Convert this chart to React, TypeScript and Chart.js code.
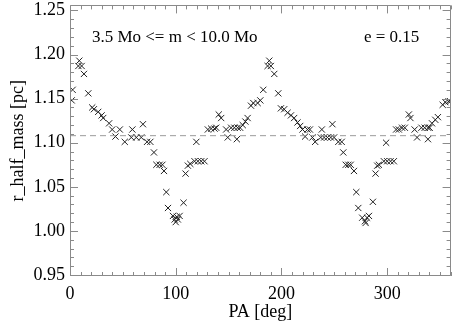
import React, { useEffect, useRef } from "react";
import { Chart, registerables } from "chart.js";

Chart.register(...registerables);

// Position angle [deg]
const paDeg: number[] = [
  1.6, 2.5, 7.9, 8.8, 11.0, 13.2, 17.3, 21.0, 22.6, 26.7, 29.9, 31.4, 37.0, 39.9, 43.0, 47.1,
  51.8, 58.0, 59.0, 62.7, 67.4, 69.0, 72.9, 76.0, 79.4, 81.7, 84.8, 87.4, 88.9, 91.1, 92.7,
  97.4, 99.0, 100.0, 101.0, 102.0, 103.7, 107.4, 109.3, 111.5, 113.8, 117.8, 119.5, 121.0,
  124.1, 127.2, 130.4, 133.5, 136.7, 138.3, 140.7, 143.0, 147.7, 149.2, 152.4, 155.5, 157.8,
  158.6, 160.9, 163.4, 165.9, 168.0, 171.2, 173.4, 177.5, 180.0,
  182.8, 186.9, 188.5, 190.0, 193.2, 197.0, 199.5, 202.6, 205.8, 209.0, 212.0, 215.2, 217.7,
  219.9, 222.4, 224.6, 226.9, 229.3, 231.9, 237.2, 238.2, 240.4, 243.5, 246.7, 248.2, 249.8,
  253.8, 257.0, 258.5, 260.8, 263.3, 265.5, 268.6, 270.8, 272.7, 276.4, 279.0, 279.6, 281.0,
  282.8, 286.5, 289.0, 290.6, 292.2, 296.9, 299.0, 300.0, 303.2, 306.3, 308.5, 311.0, 314.1,
  316.7, 320.5, 322.0, 326.0, 328.3, 332.4, 335.5, 338.6, 338.7, 340.2, 342.4, 345.5, 348.0,
  352.5, 355.0, 358.1, 359.7,
];

// Half-mass radius [pc]
const rHalfMass: number[] = [
  1.148, 1.160, 1.187, 1.193, 1.187, 1.178, 1.156, 1.140, 1.138, 1.135, 1.131, 1.128, 1.122, 1.115, 1.107, 1.115,
  1.101, 1.106, 1.115, 1.106, 1.106, 1.121, 1.101, 1.101, 1.089, 1.075, 1.075, 1.075, 1.068, 1.044, 1.026,
  1.017, 1.013, 1.010, 1.016, 1.013, 1.017, 1.032, 1.065, 1.074, 1.076, 1.079, 1.101, 1.079,
  1.079, 1.079, 1.115, 1.116, 1.116, 1.117, 1.132, 1.128, 1.115, 1.106, 1.117, 1.117, 1.104,
  1.117, 1.117, 1.120, 1.124, 1.128, 1.142, 1.145, 1.145, 1.148,
  1.160, 1.187, 1.193, 1.187, 1.178, 1.156, 1.139, 1.138, 1.134, 1.131, 1.128, 1.123, 1.119,
  1.115, 1.107, 1.115, 1.115, 1.106, 1.101, 1.106, 1.115, 1.106, 1.106, 1.106, 1.121, 1.106,
  1.101, 1.101, 1.089, 1.075, 1.075, 1.075, 1.068, 1.044, 1.026, 1.015, 1.011, 1.009, 1.015,
  1.017, 1.033, 1.065, 1.074, 1.075, 1.079, 1.100, 1.079, 1.079, 1.079, 1.115, 1.115, 1.117,
  1.117, 1.132, 1.128, 1.115, 1.106, 1.117, 1.117, 1.104, 1.117, 1.117, 1.122, 1.126, 1.129,
  1.143, 1.146, 1.147, 1.147,
];

const meanRadius = 1.108;
const xRange = [0, 360];
const yRange = [0.9489, 1.2557];
const xMajorTicks = [0, 100, 200, 300];
const xMinorStep = 10;
const yMajorTicks = [0.95, 1.0, 1.05, 1.1, 1.15, 1.2, 1.25];
const yMinorStep = 0.01;
const massLabel = "3.5 Mo <= m < 10.0 Mo";
const eccLabel = "e = 0.15";
const massLabelPos = { x: 20.7, y: 1.219 };
const eccLabelPos = { x: 278, y: 1.219 };

const SERIF = "'Liberation Serif', 'Times New Roman', 'DejaVu Serif', serif";

const frameTicks = {
  id: "frameTicks",
  afterDraw(chart: any) {
    const { ctx, chartArea: a, scales } = chart;
    const xs = scales.x;
    const ys = scales.y;
    ctx.save();
    ctx.strokeStyle = "#8a8a8a";
    ctx.lineWidth = 1;
    ctx.beginPath();
    ctx.rect(Math.round(a.left) + 0.5, Math.round(a.top) + 0.5, Math.round(a.right - a.left) - 1, Math.round(a.bottom - a.top) - 1);
    ctx.stroke();
    ctx.beginPath();
    const nx = Math.round((xRange[1] - xRange[0]) / xMinorStep);
    for (let i = 0; i <= nx; i++) {
      const v = xRange[0] + i * xMinorStep;
      const major = xMajorTicks.some((t) => Math.abs(t - v) < 1e-6);
      const len = major ? 8 : 4;
      const px = Math.round(xs.getPixelForValue(v)) + 0.5;
      ctx.moveTo(px, a.bottom);
      ctx.lineTo(px, a.bottom - len);
      ctx.moveTo(px, a.top);
      ctx.lineTo(px, a.top + len);
    }
    const y0 = Math.ceil(yRange[0] / yMinorStep - 1e-6);
    const y1 = Math.floor(yRange[1] / yMinorStep + 1e-6);
    for (let i = y0; i <= y1; i++) {
      const v = i * yMinorStep;
      const major = yMajorTicks.some((t) => Math.abs(t - v) < 1e-6);
      const len = major ? 8 : 4;
      const py = Math.round(ys.getPixelForValue(v)) + 0.5;
      ctx.moveTo(a.left, py);
      ctx.lineTo(a.left + len, py);
      ctx.moveTo(a.right, py);
      ctx.lineTo(a.right - len, py);
    }
    ctx.stroke();

    ctx.fillStyle = "#000";
    ctx.font = `17px ${SERIF}`;
    ctx.textBaseline = "middle";
    ctx.textAlign = "left";
    ctx.fillText(massLabel, xs.getPixelForValue(massLabelPos.x), ys.getPixelForValue(massLabelPos.y));
    ctx.fillText(eccLabel, xs.getPixelForValue(eccLabelPos.x), ys.getPixelForValue(eccLabelPos.y));
    ctx.restore();
  },
};

export default function App() {
  const ref = useRef<HTMLCanvasElement | null>(null);
  useEffect(() => {
    if (!ref.current) return;
    const points = paDeg.map((x, i) => ({ x, y: rHalfMass[i] }));
    const chart = new Chart(ref.current, {
      type: "scatter",
      data: {
        datasets: [
          {
            data: [
              { x: xRange[0], y: meanRadius },
              { x: xRange[1], y: meanRadius },
            ],
            showLine: true,
            borderColor: "#9a9a9a",
            borderWidth: 1,
            borderDash: [6, 4],
            pointRadius: 0,
          },
          {
            data: points,
            pointStyle: "crossRot",
            pointRadius: 4.4,
            borderColor: "#222",
            backgroundColor: "#222",
            borderWidth: 1,
          },
        ],
      },
      options: {
        animation: false,
        responsive: false,
        devicePixelRatio: 1,
        layout: { padding: { left: 0, top: 5, right: 4, bottom: 0 } },
        plugins: { legend: { display: false }, tooltip: { enabled: false } },
        font: { family: SERIF },
        scales: {
          x: {
            type: "linear",
            min: xRange[0],
            max: xRange[1],
            grid: { display: false, drawTicks: false },
            border: { display: false },
            afterBuildTicks: (s: any) => {
              s.ticks = xMajorTicks.map((v) => ({ value: v }));
            },
            afterFit: (s: any) => {
              s.height = 51;
              s.paddingLeft = 0;
              s.paddingRight = 0;
            },
            ticks: {
              color: "#000",
              padding: 7,
              maxRotation: 0,
              font: { family: SERIF, size: 18 },
              callback: (v: any) => String(v),
            },
            title: {
              display: true,
              text: "PA [deg]",
              color: "#000",
              font: { family: SERIF, size: 18 },
              padding: { top: 0, bottom: 4 },
            },
          },
          y: {
            type: "linear",
            min: yRange[0],
            max: yRange[1],
            grid: { display: false, drawTicks: false },
            border: { display: false },
            afterBuildTicks: (s: any) => {
              s.ticks = yMajorTicks.map((v) => ({ value: v }));
            },
            afterFit: (s: any) => {
              s.width = 70;
              s.paddingTop = 0;
              s.paddingBottom = 0;
            },
            ticks: {
              color: "#000",
              padding: 5,
              font: { family: SERIF, size: 18 },
              callback: (v: any) => Number(v).toFixed(2),
            },
            title: {
              display: true,
              text: "r_half_mass [pc]",
              color: "#000",
              font: { family: SERIF, size: 18 },
              padding: { top: 7, bottom: 0 },
            },
          },
        },
      },
      plugins: [frameTicks],
    } as any);
    return () => chart.destroy();
  }, []);
  return (
    <div style={{ position: "absolute", left: 0, top: 0, width: 456, height: 327, background: "#fff" }}>
      <canvas ref={ref} width={456} height={327} style={{ width: 456, height: 327, display: "block" }} />
    </div>
  );
}
